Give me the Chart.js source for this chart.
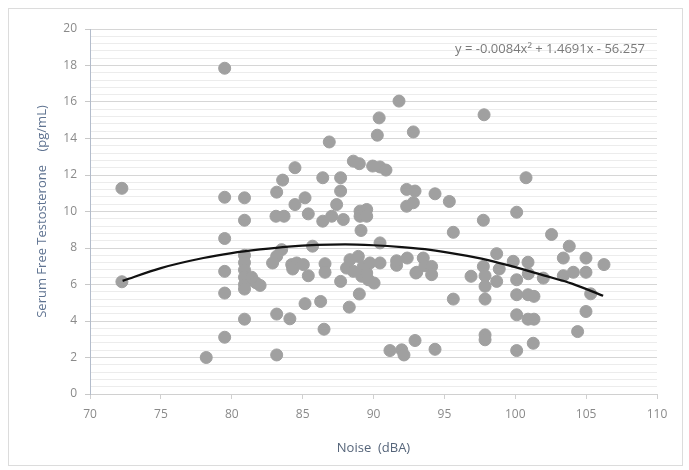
<!DOCTYPE html>
<html lang="en">
<head>
<meta charset="UTF-8">
<title>Noise vs Serum Free Testosterone</title>
<script src="https://cdn.jsdelivr.net/npm/chart.js@4.4.0/dist/chart.umd.min.js"></script>
<style>
  html, body { margin: 0; padding: 0; background: #fff; }
  #wrap { width: 689px; height: 470px; }
</style>
</head>
<body>
<div id="wrap"><canvas id="scatterChart" width="689" height="470"></canvas></div>
<script>
// each subject: noise exposure (dBA) and serum free testosterone (pg/mL)
const noiseDba = [
  72.25, 72.25, 78.2, 79.5, 79.5, 79.5, 79.5, 79.5, 79.5,
  80.9, 80.9, 80.9, 80.9, 80.9, 80.9, 80.9, 80.9, 80.9, 81.4, 81.7, 82.0,
  83.17, 83.59, 84.46, 83.12, 83.69, 84.46, 85.17, 85.4, 83.52, 83.17, 82.88,
  84.23, 84.58, 85.05, 84.3, 85.4, 85.17, 83.17, 84.1, 83.17,
  86.88, 90.27, 90.4, 92.81, 91.8, 97.8,
  88.58, 89.0, 89.94, 90.46, 90.88, 86.42, 87.68, 87.68, 87.4, 86.42, 87.05,
  87.87, 89.05, 89.52, 89.05, 89.52, 89.12, 92.34, 92.93, 92.34, 92.81, 90.46,
  85.7, 86.58, 86.58, 87.68, 88.34, 88.93, 88.1, 88.58, 89.28, 89.75, 90.46,
  89.17, 89.64, 90.04, 89.52, 91.63, 91.63, 92.38, 92.99, 86.27, 88.29, 89.0,
  86.51, 91.16, 91.99, 92.15, 92.93,
  94.34, 95.35, 95.63, 97.75, 100.1, 100.76, 93.51, 93.05, 93.63, 94.1, 94.1,
  95.63, 96.88, 97.75, 97.87, 97.87, 97.87, 98.69, 98.87, 98.69, 99.86, 100.1,
  100.1, 100.1, 100.9, 100.9, 100.9, 97.87, 97.87, 94.34, 100.1,
  102.56, 103.81, 103.39, 104.99, 106.26, 100.92, 101.98, 103.39, 104.1, 104.99,
  105.32, 101.32, 101.32, 104.99, 104.4, 101.27
];
const freeTestosterone = [
  11.27, 6.15, 2.0, 17.85, 10.78, 8.52, 6.72, 5.53, 3.11,
  10.75, 9.52, 4.1, 7.6, 7.2, 6.8, 6.4, 6.0, 5.75, 6.4, 6.1, 5.95,
  11.06, 11.72, 12.4, 9.74, 9.74, 10.38, 10.75, 9.87, 7.91, 7.55, 7.18,
  7.09, 7.18, 7.09, 6.85, 6.48, 4.95, 4.38, 4.12, 2.14,
  13.81, 14.18, 15.13, 14.36, 16.05, 15.3,
  12.76, 12.62, 12.49, 12.44, 12.27, 11.85, 11.85, 11.12, 10.38, 9.47, 9.74,
  9.56, 10.02, 10.11, 9.74, 9.74, 8.96, 11.21, 11.12, 10.29, 10.48, 8.28,
  8.1, 7.14, 6.67, 6.17, 7.36, 7.54, 6.9, 6.72, 6.99, 7.18, 7.18,
  6.45, 6.26, 6.08, 6.63, 7.05, 7.3, 7.45, 6.63, 5.07, 4.76, 5.48,
  3.55, 2.38, 2.42, 2.14, 2.93,
  10.97, 10.55, 8.86, 9.52, 9.96, 11.85, 7.45, 6.67, 7.03, 6.99, 6.54,
  5.2, 6.45, 6.99, 6.48, 5.9, 5.2, 7.69, 6.85, 6.17, 7.27, 6.26,
  5.44, 4.34, 7.22, 5.44, 4.1, 3.24, 2.97, 2.45, 2.38,
  8.74, 8.1, 7.45, 7.45, 7.09, 6.59, 6.35, 6.48, 6.67, 6.67,
  5.49, 5.35, 4.1, 4.52, 3.42, 2.78
];

// polynomial trendline
const trendNoise = [72.3, 75, 78, 80, 82, 84, 86, 88, 90, 92, 94, 96, 98, 100, 102, 104, 106.2];
const trendFit   = [6.2, 6.9, 7.45, 7.72, 7.92, 8.08, 8.17, 8.2, 8.15, 8.05, 7.9, 7.65, 7.35, 6.95, 6.5, 6.05, 5.38];

const equationText = 'y = -0.0084x² + 1.4691x - 56.257';

const isMajor = v => Math.abs(v / 2 - Math.round(v / 2)) < 1e-6;

// outer frame + equation label
const chartDecor = {
  id: 'chartDecor',
  beforeDraw(chart) {
    const ctx = chart.ctx;
    ctx.save();
    ctx.fillStyle = '#fff';
    ctx.fillRect(0, 0, chart.width, chart.height);
    ctx.strokeStyle = '#dcdcdc';
    ctx.lineWidth = 1;
    ctx.strokeRect(8.5, 8.5, chart.width - 15, chart.height - 13);
    ctx.restore();
  },
  afterDatasetsDraw(chart) {
    const ctx = chart.ctx;
    const area = chart.chartArea;
    ctx.save();
    ctx.font = '13px "Open Sans"';
    ctx.fillStyle = '#7a7a7a';
    ctx.textAlign = 'right';
    ctx.textBaseline = 'middle';
    ctx.fillText(equationText, area.right - 12, area.top + 20);
    ctx.restore();
  }
};

new Chart(document.getElementById('scatterChart'), {
  type: 'scatter',
  data: {
    datasets: [
      {
        type: 'line',
        label: 'Trend',
        data: trendNoise.map((x, i) => ({ x: x, y: trendFit[i] })),
        borderColor: '#111',
        borderWidth: 2.2,
        pointRadius: 0,
        fill: false,
        cubicInterpolationMode: 'monotone',
        order: 0
      },
      {
        label: 'Subjects',
        data: noiseDba.map((x, i) => ({ x: x, y: freeTestosterone[i] })),
        backgroundColor: '#a0a0a0',
        borderColor: '#a0a0a0',
        pointRadius: 6,
        pointHoverRadius: 6,
        order: 1
      }
    ]
  },
  options: {
    responsive: false,
    animation: false,
    layout: { padding: { left: 34, right: 32, top: 29, bottom: 14 } },
    plugins: {
      legend: { display: false },
      tooltip: { enabled: false }
    },
    scales: {
      x: {
        type: 'linear',
        min: 70,
        max: 110,
        afterFit: s => { s.height = 62; },
        ticks: {
          stepSize: 5,
          color: '#8a8a8a',
          font: { family: 'Open Sans', size: 12 },
          padding: 8
        },
        grid: { drawOnChartArea: false, color: '#d0d0d0', tickLength: 5 },
        border: { color: '#d0d0d0' },
        title: {
          display: true,
          text: 'Noise  (dBA)',
          color: '#56657a',
          font: { family: 'Open Sans', size: 13 },
          padding: 0
        }
      },
      y: {
        min: 0,
        max: 20,
        afterFit: s => { s.width = 56; },
        ticks: {
          stepSize: 0.4,
          maxTicksLimit: 60,
          autoSkip: false,
          color: '#8a8a8a',
          font: { family: 'Open Sans', size: 12 },
          padding: 8,
          callback: v => isMajor(v) ? Math.round(v) : ''
        },
        grid: {
          color: c => isMajor(c.tick.value) ? '#d6d6d6' : '#ececec',
          tickColor: c => isMajor(c.tick.value) ? '#c8c8c8' : 'rgba(0,0,0,0)',
          tickLength: 5
        },
        border: { color: '#b3bccb' },
        title: {
          display: true,
          text: 'Serum Free Testosterone    (pg/mL)',
          color: '#5f7391',
          font: { family: 'Open Sans', size: 13 },
          padding: 0
        }
      }
    }
  },
  plugins: [chartDecor]
});
</script>
</body>
</html>
